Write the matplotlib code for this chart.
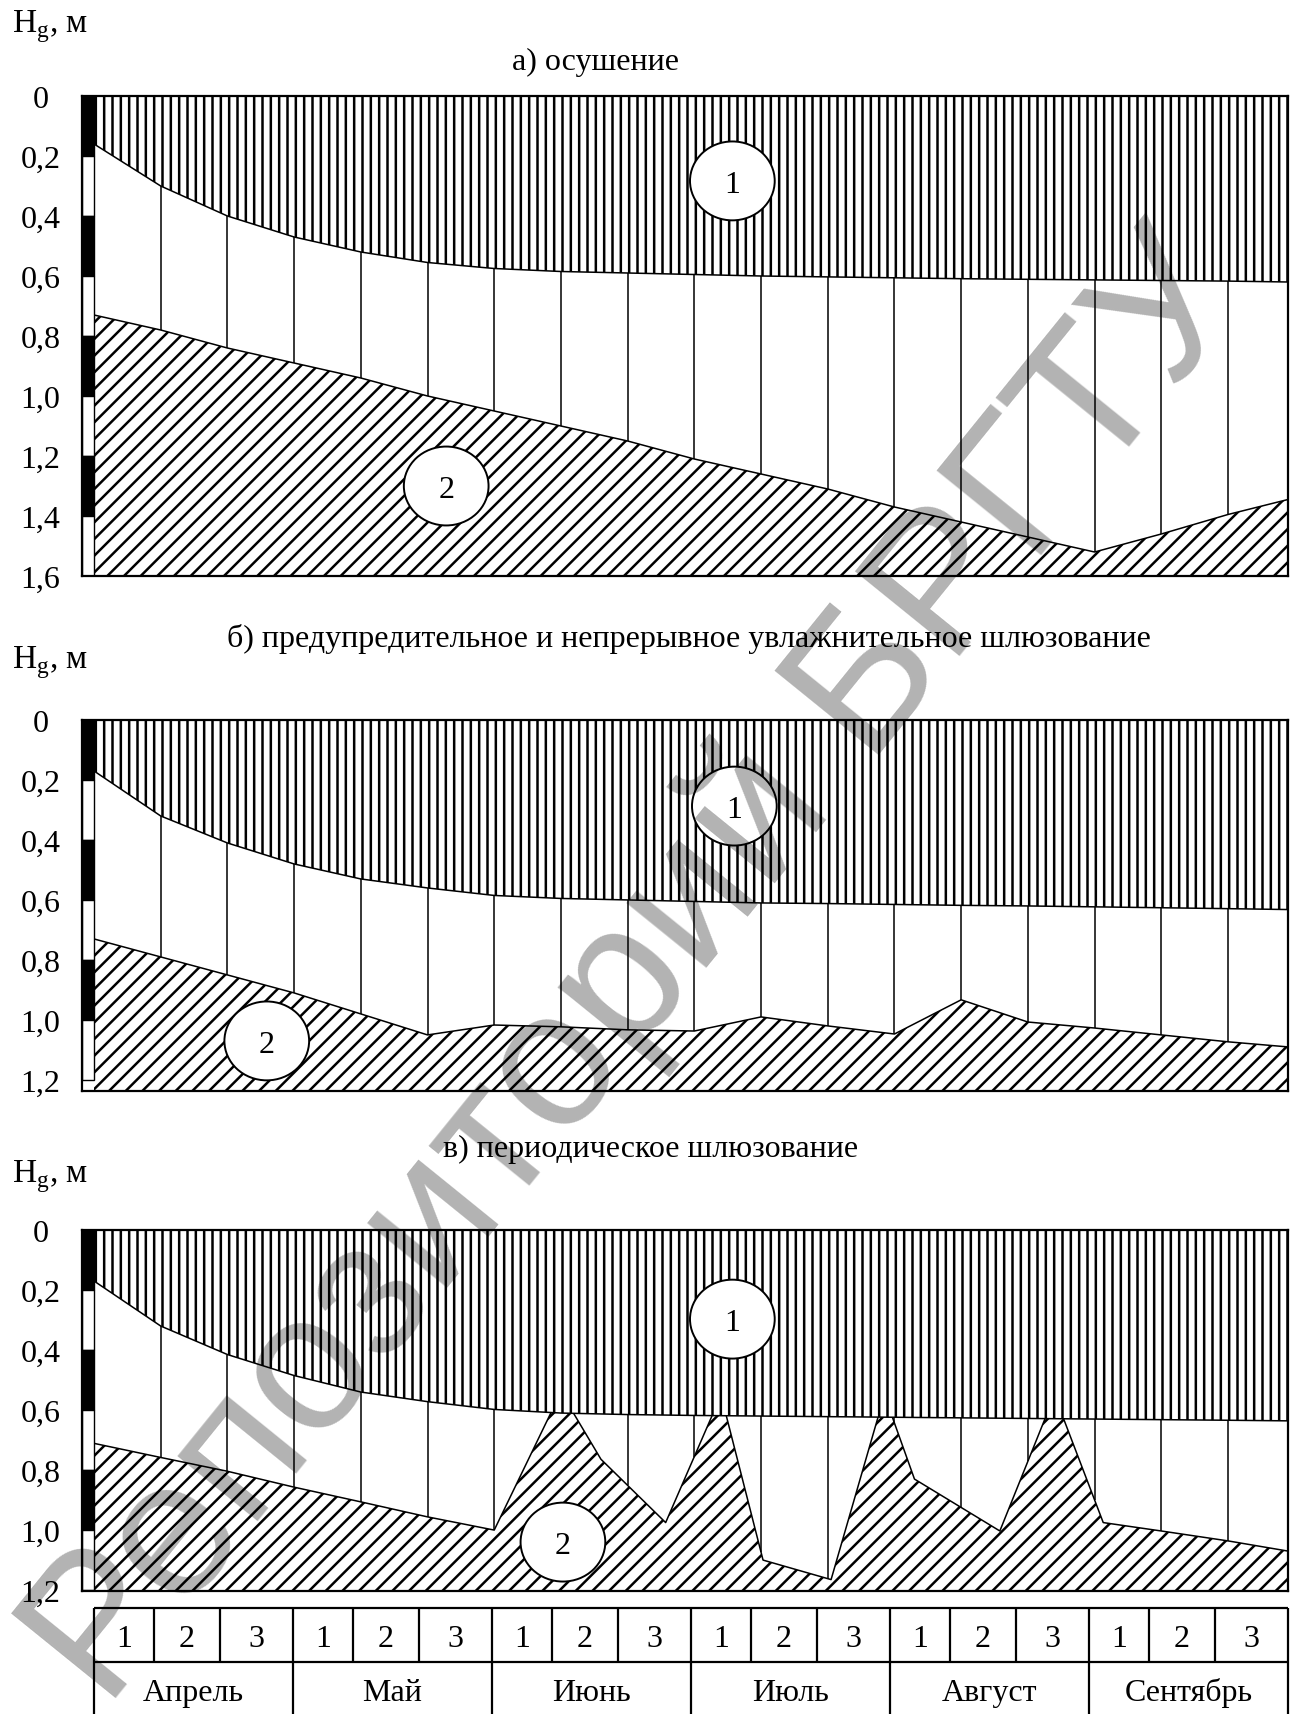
import numpy as np
import matplotlib
matplotlib.use('Agg')
import matplotlib.pyplot as plt
from matplotlib.patches import Ellipse

# decade positions (Apr 1 ... Sep 3), last point is the right edge
decades = list(range(18)) + [17.9]

# a) drainage
a_top = [0.16, 0.30, 0.40, 0.47, 0.52, 0.555, 0.575, 0.585, 0.59, 0.595,
         0.60, 0.603, 0.606, 0.609, 0.611, 0.613, 0.615, 0.617, 0.62]
a_bot = [0.73, 0.78, 0.84, 0.89, 0.94, 1.00, 1.05, 1.10, 1.15, 1.21,
         1.26, 1.31, 1.37, 1.42, 1.47, 1.52, 1.46, 1.395, 1.345]

# b) preventive and continuous sluicing
b_top = [0.17, 0.32, 0.41, 0.48, 0.53, 0.56, 0.585, 0.595, 0.60, 0.605,
         0.61, 0.612, 0.615, 0.618, 0.62, 0.623, 0.626, 0.629, 0.632]
b_bot = [0.73, 0.79, 0.85, 0.91, 0.98, 1.05, 1.017, 1.023, 1.033, 1.037,
         0.99, 1.02, 1.047, 0.933, 1.007, 1.027, 1.05, 1.073, 1.09]

# c) periodic sluicing
c_top = [0.17, 0.32, 0.415, 0.485, 0.54, 0.572, 0.598, 0.61, 0.615, 0.618,
         0.62, 0.622, 0.624, 0.626, 0.628, 0.63, 0.632, 0.634, 0.636]
c_bot_x = [0, 1, 2, 3, 4, 5, 6, 7.0, 7.6, 8.57, 9.4, 10.03, 11.05, 11.85,
           12.3, 13.58, 14.4, 15.13, 16, 17, 17.9]
c_bot = [0.711, 0.758, 0.804, 0.857, 0.906, 0.956, 1.0, 0.54, 0.764, 0.975,
         0.55, 1.10, 1.165, 0.55, 0.83, 1.003, 0.55, 0.975, 1.003, 1.036, 1.07]

months = ['Апрель', 'Май', 'Июнь', 'Июль', 'Август', 'Сентябрь']
dec_labels = ['1', '2', '3']

W, H = 1297, 1715
FS = 23
plt.rcParams['font.family'] = ['Liberation Serif', 'DejaVu Serif']
plt.rcParams['mathtext.fontset'] = 'custom'
plt.rcParams['mathtext.rm'] = 'Liberation Serif'
plt.rcParams['hatch.linewidth'] = 1.8

fig = plt.figure(figsize=(W / 100, H / 100), dpi=100)


def rect(l, t, r, b):
    return [l / W, 1 - b / H, (r - l) / W, (b - t) / H]


def panel(top_px, bot_px, ymax, x_top, top, x_bot, bot, ticks, circles):
    ax = fig.add_axes(rect(82, top_px, 1288, bot_px))
    ax.set_xlim(-0.18, 17.9)
    ax.set_ylim(ymax, 0)
    ax.fill_between(x_bot, bot, ymax, facecolor='white', edgecolor='black',
                    hatch='//', linewidth=0, zorder=1)
    ax.plot(x_bot, bot, color='black', lw=1.1, zorder=1.5)
    ax.fill_between(x_top, 0, top, facecolor='white', edgecolor='black',
                    hatch='||', linewidth=0, zorder=2)
    ax.plot(x_top, top, color='black', lw=1.1, zorder=2.5)

    ks = np.arange(1, 18)
    t = np.interp(ks, x_top, top)
    b = np.interp(ks, x_bot, bot)
    m = b > t
    ax.vlines(ks[m], t[m], b[m], color='black', lw=1.1, zorder=1.8)

    # black/white depth scale
    for i in range(len(ticks) - 1):
        ax.bar(-0.09, 0.2, bottom=ticks[i], width=0.18,
               color='black' if i % 2 == 0 else 'white',
               edgecolor='black', lw=1.0, zorder=3)

    for (xc, yc, txt) in circles:
        ax.add_patch(Ellipse((xc, yc), 1.27, 0.263, facecolor='white',
                             edgecolor='black', lw=1.4, zorder=4))
        ax.text(xc, yc, txt, fontsize=FS, ha='center', va='center_baseline', zorder=5)

    ax.set_xticks([])
    ax.set_yticks(ticks)
    ax.set_yticklabels(['0' if v == 0 else f'{v:.1f}'.replace('.', ',') for v in ticks])
    ax.tick_params(axis='y', length=0, pad=30, labelsize=FS)
    for lbl in ax.get_yticklabels():
        lbl.set_horizontalalignment('center')
    for s in ax.spines.values():
        s.set_linewidth(1.6)
        s.set_zorder(6)
    return ax


ticks_a = [0, 0.2, 0.4, 0.6, 0.8, 1.0, 1.2, 1.4, 1.6]
ticks_bc = [0, 0.2, 0.4, 0.6, 0.8, 1.0, 1.2]

panel(97, 577, 1.6, decades, a_top, decades, a_bot, ticks_a,
      [(9.57, 0.283, '1'), (5.28, 1.30, '2')])
panel(721, 1092, 1.237, decades, b_top, decades, b_bot, ticks_bc,
      [(9.6, 0.287, '1'), (2.59, 1.07, '2')])
panel(1231, 1592, 1.203, decades, c_top, c_bot_x, c_bot, ticks_bc,
      [(9.57, 0.297, '1'), (7.03, 1.04, '2')])

# labels and titles
for yb in [32, 668, 1182]:
    fig.text(12 / W, 1 - yb / H, r'H$_{\mathrm{g}}$, м', fontsize=24,
             ha='left', va='baseline')
fig.text(596 / W, 1 - 70 / H, 'а) осушение', fontsize=FS, ha='center', va='baseline')
fig.text(227 / W, 1 - 647 / H,
         'б) предупредительное и непрерывное увлажнительное шлюзование',
         fontsize=FS, ha='left', va='baseline')
fig.text(858 / W, 1 - 1157 / H, 'в) периодическое шлюзование', fontsize=FS,
         ha='right', va='baseline')

# decade / month table
tab = fig.add_axes(rect(94, 1609, 1288, 1717))
tab.set_xlim(0, 6)
tab.set_ylim(2, 0)
tab.axis('off')
cuts = [0, 0.30, 0.633, 1.0]
tab.hlines([0, 1], 0, 6, color='black', lw=1.6, clip_on=False)
tab.vlines(range(7), 0, 2, color='black', lw=1.6, clip_on=False)
for mi, name in enumerate(months):
    tab.vlines([mi + cuts[1], mi + cuts[2]], 0, 1, color='black', lw=1.6)
    for j, d in enumerate(dec_labels):
        tab.text(mi + (cuts[j] + cuts[j + 1]) / 2, 0.5, d, fontsize=FS,
                 ha='center', va='center_baseline')
    tab.text(mi + 0.5, 1.5, name, fontsize=FS, ha='center', va='center_baseline')

# watermark
fig.text(637 / W, 1 - 970 / H, 'Репозиторий БРГТУ', fontsize=140,
         family='Liberation Sans', rotation=51, rotation_mode='anchor',
         ha='center', va='center', color='black', alpha=0.3, zorder=10)

fig.savefig('out.png', dpi=100)
